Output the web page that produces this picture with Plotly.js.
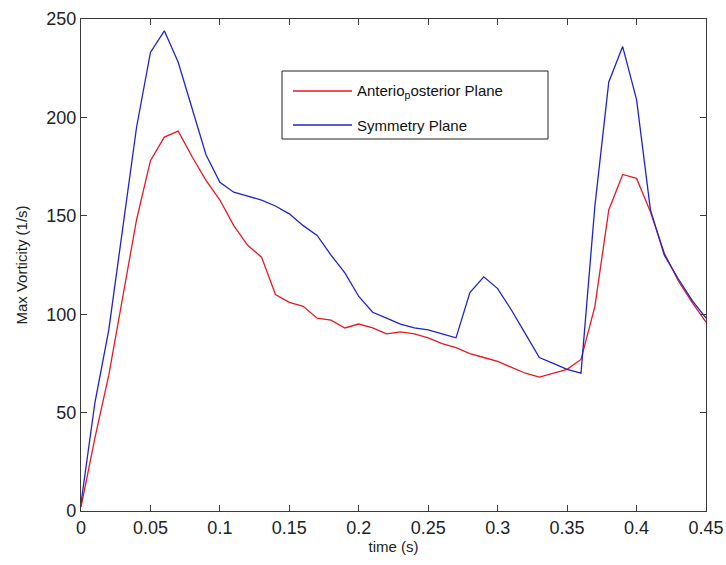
<!DOCTYPE html>
<html>
<head>
<meta charset="utf-8">
<script src="https://cdn.plot.ly/plotly-3.0.1.min.js"></script>
<style>
  html, body { margin: 0; padding: 0; background: #fff; }
  #chart { width: 726px; height: 565px; }
</style>
</head>
<body>
<div id="chart"></div>
<script>
// Sample times (s)
const time = [
  0.00, 0.01, 0.02, 0.03, 0.04, 0.05, 0.06, 0.07, 0.08, 0.09,
  0.10, 0.11, 0.12, 0.13, 0.14, 0.15, 0.16, 0.17, 0.18, 0.19,
  0.20, 0.21, 0.22, 0.23, 0.24, 0.25, 0.26, 0.27, 0.28, 0.29,
  0.30, 0.31, 0.32, 0.33, 0.34, 0.35, 0.36, 0.37, 0.38, 0.39,
  0.40, 0.41, 0.42, 0.43, 0.44, 0.45
];

// Max vorticity (1/s), anterioposterior plane
const anterioposterior = [
  2, 37, 69, 109, 148, 178, 190, 193, 180, 168,
  158, 145, 135, 129, 110, 106, 104, 98, 97, 93,
  95, 93, 90, 91, 90, 88, 85, 83, 80, 78,
  76, 73, 70, 68, 70, 72, 77, 104, 153, 171,
  169, 152, 131, 117, 106, 96
];

// Max vorticity (1/s), symmetry plane
const symmetry = [
  4, 55, 92, 143, 195, 233, 244, 228, 204, 181,
  167, 162, 160, 158, 155, 151, 145, 140, 130, 121,
  109, 101, 98, 95, 93, 92, 90, 88, 111, 119,
  113, 102, 90, 78, 75, 72, 70, 155, 218, 236,
  209, 153, 130, 118, 107, 98
];

const seriesNames = ['Anterio<sub>p</sub>osterior Plane', 'Symmetry Plane'];
const seriesColors = ['rgb(228,26,36)', 'rgb(34,34,200)'];
const xTitle = 'time (s)';
const yTitle = 'Max Vorticity (1/s)';

const W = 726, H = 565;
const M = { l: 81, r: 20, t: 19, b: 54 };
const plotW = W - M.l - M.r, plotH = H - M.t - M.b;
// pixel -> paper helpers for the boxed legend
const px = x => (x - M.l) / plotW;
const py = y => (H - M.b - y) / plotH;

const traces = [anterioposterior, symmetry].map((vals, i) => ({
  x: time,
  y: vals,
  type: 'scatter',
  mode: 'lines',
  name: seriesNames[i],
  line: { color: seriesColors[i], width: 1.3 },
  showlegend: false,
  hoverinfo: 'x+y'
}));

const font = 'Liberation Sans, Arial, sans-serif';
const axisCommon = {
  showline: true,
  mirror: 'allticks',
  linecolor: '#3a3a3a',
  linewidth: 1.2,
  ticks: 'inside',
  ticklen: 6,
  tickwidth: 1,
  tickcolor: '#3a3a3a',
  showgrid: false,
  zeroline: false,
  tickfont: { family: font, size: 18, color: '#222' }
};

// Legend box drawn in paper coordinates
const legendRows = [91, 125];
const shapes = [
  { type: 'rect', xref: 'paper', yref: 'paper',
    x0: px(282), x1: px(548), y0: py(139), y1: py(71),
    line: { color: '#222', width: 1 }, fillcolor: '#fff', layer: 'above' }
];
const annotations = [];
legendRows.forEach((ry, i) => {
  shapes.push({ type: 'line', xref: 'paper', yref: 'paper',
    x0: px(293), x1: px(352), y0: py(ry), y1: py(ry),
    line: { color: seriesColors[i], width: 1.3 }, layer: 'above' });
  annotations.push({ xref: 'paper', yref: 'paper', x: px(355), y: py(ry),
    xanchor: 'left', yanchor: 'middle', showarrow: false,
    text: seriesNames[i], font: { family: font, size: 15, color: '#111' } });
});

const layout = {
  width: W, height: H,
  margin: M,
  paper_bgcolor: '#fff',
  plot_bgcolor: '#fff',
  showlegend: false,
  xaxis: Object.assign({}, axisCommon, {
    range: [0, 0.45], dtick: 0.05, tick0: 0,
    title: { text: xTitle, font: { family: font, size: 15, color: '#222' }, standoff: 4 }
  }),
  yaxis: Object.assign({}, axisCommon, {
    range: [0, 250], dtick: 50, tick0: 0,
    title: { text: yTitle, font: { family: font, size: 15, color: '#222' }, standoff: 15 }
  }),
  shapes: shapes,
  annotations: annotations
};

Plotly.newPlot('chart', traces, layout, { displayModeBar: false, staticPlot: true });
</script>
</body>
</html>
